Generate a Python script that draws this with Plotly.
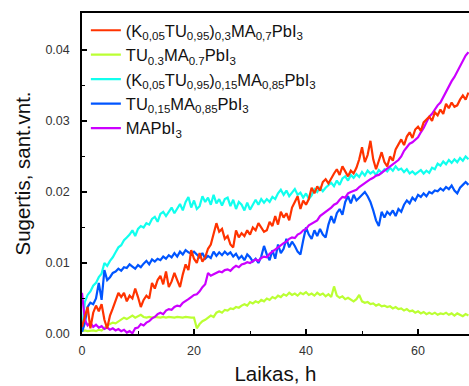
import plotly.graph_objects as go

# time axis, hours (0.5 h sampling)
hours = [i * 0.5 for i in range(139)]

# absorbance values in units of 1e-3 (sant.vnt.)
red_k03 = [
    1.0, 2.5, 3.8, 0.8, 3.0, 4.0, 3.2, 4.2, 2.0, 0.8,
    2.6, 3.6, 4.6, 5.8, 5.2, 5.8, 4.6, 5.4, 5.0, 6.4,
    5.2, 3.8, 4.8, 5.4, 5.0, 7.2, 6.4, 7.6, 8.2, 7.0,
    8.8, 6.6, 7.4, 8.6, 7.6, 6.6, 8.4, 9.8, 9.0, 11.8,
    10.6, 10.0, 11.4, 10.2, 10.8, 12.0, 12.6, 14.0, 15.6, 14.4,
    14.8, 13.4, 13.8, 12.6, 12.2, 14.6, 13.6, 14.2, 13.8, 14.6,
    14.0, 15.0, 14.6, 15.6, 15.0, 14.4, 14.6, 15.8, 15.2, 16.6,
    15.4, 17.2, 16.4, 17.0, 16.0, 17.8, 18.6, 19.4, 17.6, 18.8,
    18.2, 19.0, 20.6, 19.8, 20.8, 20.2, 21.4, 21.8, 21.2, 22.0,
    22.6, 23.2, 22.4, 23.6, 22.8, 22.2, 23.0, 22.6, 23.4, 24.6,
    26.3, 24.2, 25.2, 27.2, 24.6, 23.2, 24.4, 25.6, 24.2, 23.6,
    25.0, 24.4, 26.0, 26.8, 27.4, 26.6, 27.8, 28.4, 27.6, 28.8,
    29.2, 28.6, 29.8, 30.2, 30.6, 30.0, 31.2, 30.8, 31.6, 31.0,
    32.4, 31.8, 32.6, 32.0, 32.2, 33.0, 33.6, 33.0, 34.0,
]

green_tu03 = [
    0.4, 0.5, 0.4, 0.5, 0.5, 0.4, 0.6, 0.5, 0.9, 1.2,
    1.4, 1.6, 1.5, 1.8, 2.0, 2.3, 2.1, 2.4, 2.6, 2.3,
    2.5, 2.7, 2.4, 2.3, 2.4, 2.3, 2.4, 2.3, 2.3, 2.4,
    2.3, 2.4, 2.3, 2.3, 2.4, 2.3, 2.3, 2.4, 2.3, 2.3,
    2.3, 0.8, 1.4, 1.8, 2.0, 2.3, 2.6, 2.4, 3.0, 3.2,
    3.0, 3.4, 3.3, 3.6, 3.5, 3.8, 3.7, 4.0, 4.2, 4.0,
    4.5, 4.3, 4.6, 4.4, 4.8, 4.6, 5.0, 4.8, 5.2, 5.0,
    5.4, 5.2, 5.6, 5.4, 5.8, 5.5, 5.7, 5.4, 5.8, 5.6,
    5.9, 5.5, 5.7, 5.4, 5.8, 5.5, 5.7, 5.3, 5.6, 5.2,
    6.7, 5.4, 5.1, 5.3, 4.9, 5.1, 4.8, 4.6, 4.9, 5.5,
    4.6, 4.4, 4.5, 4.2, 4.3, 4.0, 4.2, 3.9, 4.0, 3.8,
    3.9, 3.6, 3.8, 3.5, 3.6, 3.3, 3.5, 3.2, 3.3, 3.0,
    3.2, 2.9, 3.1, 2.8, 3.0, 2.8, 3.0, 2.7, 2.9, 2.8,
    3.0, 2.7, 2.9, 2.6, 2.9, 2.7, 2.5, 2.8, 2.6,
]

cyan_k015 = [
    0.3, 4.5, 5.5, 6.0, 6.8, 7.2, 8.0, 8.5, 10.0, 9.6,
    10.3, 10.8, 11.5, 12.2, 12.5, 13.2, 13.6, 14.0, 14.6, 13.8,
    14.8, 15.2, 15.0, 15.6, 15.4, 16.2, 16.5, 15.8, 16.9, 17.2,
    16.6, 17.3, 17.8, 17.0, 17.6, 18.3, 17.4, 18.6, 19.3, 17.8,
    18.8, 17.6, 18.0, 19.4, 18.6, 19.2, 18.2, 19.6, 18.4, 19.0,
    18.1, 19.0, 19.2, 18.0, 18.9, 17.6, 18.6, 18.2, 17.4, 18.5,
    17.5, 18.3, 18.9, 18.2, 19.0, 18.5, 19.0, 18.6, 19.3, 19.0,
    19.8, 20.3, 19.6, 20.2, 19.4, 19.9, 20.4, 19.6, 19.9, 19.2,
    19.8, 19.0, 19.5, 20.4, 20.0, 20.6, 20.1, 20.6, 20.9, 21.3,
    20.8, 21.6, 21.0, 21.9, 22.2, 21.6, 22.4, 22.0, 22.5, 22.1,
    22.8, 22.3, 23.0, 22.6, 22.9, 22.4, 23.1, 22.7, 23.2, 22.9,
    23.4, 23.0, 23.6, 23.1, 23.3, 22.8, 23.2, 22.6, 22.9, 22.5,
    22.8, 23.1, 22.6, 23.0, 22.7, 23.4, 23.2, 24.0, 23.7, 24.3,
    23.9, 24.5, 24.1, 24.6, 24.2, 24.8, 24.4, 25.0, 24.6,
]

blue_tu015 = [
    0.3, 1.5, 3.8, 4.4, 4.2, 5.0, 7.2, 4.8, 9.0, 7.6,
    8.0, 8.6, 8.8, 9.2, 8.9, 9.4, 9.3, 9.8, 9.5, 9.2,
    9.7, 9.4, 9.9, 10.3, 9.8, 10.5, 10.2, 10.6, 10.4, 10.9,
    10.6, 11.1, 10.8, 11.4, 10.9, 11.6, 11.2, 11.8, 11.5, 11.3,
    11.6, 11.2, 10.8, 11.4, 10.6, 11.0, 10.7, 11.6, 11.0, 11.5,
    11.1, 11.6, 11.2, 11.5, 10.9, 11.3, 10.6, 11.0, 10.4, 11.2,
    10.8, 10.2, 10.6, 10.0, 10.9, 12.4, 11.2, 10.4, 11.8, 10.6,
    12.6, 11.4, 12.0, 13.4, 12.2, 13.0, 12.4, 11.6, 11.2, 13.2,
    15.0, 14.0, 13.4, 14.6, 13.8, 14.8, 14.0, 13.6, 15.4, 16.6,
    15.6, 17.0, 17.6, 16.8, 18.6, 19.4, 18.4, 19.6, 18.8, 19.2,
    19.6, 20.0, 19.4, 18.6, 17.4, 16.0, 15.2, 17.2, 16.4, 17.2,
    16.8, 17.4, 16.6, 17.6, 17.2, 18.2, 18.8, 18.4, 19.2, 18.8,
    19.6, 19.3, 19.8, 19.4, 20.0, 19.8, 20.2, 20.1, 20.5, 20.2,
    20.7, 20.4, 20.9, 20.2, 19.8, 20.6, 21.0, 21.4, 21.0,
]

purple_mapbi3 = [
    5.8, 2.0, 1.2, 1.6, 1.0, 1.3, 0.9, 1.1, 0.7, 0.9,
    0.6, 0.8, 0.5, 0.7, 0.4, 0.6, 0.2, 0.4, 0.1, 0.8,
    0.9, 1.4, 1.2, 1.6, 1.8, 2.2, 2.4, 2.8, 3.0, 2.8,
    3.3, 3.5, 3.4, 3.8, 4.0, 3.9, 4.4, 4.6, 4.9, 5.2,
    5.5, 5.6, 6.0, 6.6, 7.0, 8.6, 8.2, 8.4, 8.6, 8.8,
    8.7, 9.0, 9.1, 8.9, 9.3, 9.6, 9.4, 9.8, 9.9, 10.1,
    10.0, 10.3, 10.5, 10.3, 10.7, 10.9, 10.8, 11.3, 11.6, 11.9,
    12.2, 12.6, 12.8, 13.0, 13.4, 13.6, 13.5, 14.0, 14.2, 14.6,
    14.8, 15.3, 15.5, 15.8, 16.0, 16.6, 16.9, 17.2, 17.4, 17.8,
    18.2, 18.4, 18.9, 19.3, 19.2, 19.8, 20.0, 20.1, 20.3, 20.7,
    21.0, 21.2, 21.5, 21.8, 22.0, 22.3, 22.4, 22.7, 23.0, 23.3,
    23.5, 23.8, 24.1, 24.5, 25.0, 25.8, 26.3, 26.8, 27.0, 27.4,
    27.7, 28.4, 29.0, 29.8, 30.6, 31.0, 31.6, 32.2, 32.6, 33.4,
    34.0, 35.0, 35.6, 36.2, 37.0, 37.6, 38.6, 39.2, 39.7,
]

names = [
    "(K<sub>0,05</sub>TU<sub>0,95</sub>)<sub>0,3</sub>MA<sub>0,7</sub>PbI<sub>3</sub>",
    "TU<sub>0.3</sub>MA<sub>0.7</sub>PbI<sub>3</sub>",
    "(K<sub>0,05</sub>TU<sub>0,95</sub>)<sub>0,15</sub>MA<sub>0,85</sub>PbI<sub>3</sub>",
    "TU<sub>0,15</sub>MA<sub>0,85</sub>PbI<sub>3</sub>",
    "MAPbI<sub>3</sub>",
]
series = [red_k03, green_tu03, cyan_k015, blue_tu015, purple_mapbi3]
colors = ["#ff3300", "#bbff33", "#11ffee", "#0055ff", "#cc00ff"]
draw_order = [1, 2, 3, 4, 0]

x_ticks = [0, 20, 40, 60]
x_minor = [10, 30, 50]
y_ticks = [0.0, 0.01, 0.02, 0.03, 0.04]
y_ticktext = ["0.00", "0.01", "0.02", "0.03", "0.04"]
y_minor = [0.005, 0.015, 0.025, 0.035]

fig = go.Figure()
for i in draw_order:
    fig.add_trace(go.Scatter(
        x=hours, y=[v / 1000 for v in series[i]], mode="lines",
        name=names[i], legendrank=i + 1,
        line=dict(color=colors[i], width=2.2),
    ))

fig.update_layout(
    width=469, height=386,
    margin=dict(l=82, r=0, t=13, b=52),
    plot_bgcolor="white", paper_bgcolor="white",
    font=dict(family="Liberation Sans, Arial, sans-serif", color="#222"),
    showlegend=True,
    legend=dict(x=0.01, y=1.0, xanchor="left", yanchor="top",
                bgcolor="rgba(0,0,0,0)", font=dict(size=16.5, color="#111"),
                itemwidth=30),
)
fig.update_xaxes(
    range=[0, 69.1], tickvals=x_ticks, ticks="inside", ticklen=5, tickwidth=1.5,
    tickcolor="black", showline=True, linecolor="black", linewidth=1.5, mirror=True,
    showgrid=False, zeroline=False, tickfont=dict(size=12.5, color="#333"),
    ticklabelstandoff=4,
    minor=dict(tickvals=x_minor, ticks="inside", ticklen=3, tickcolor="black", tickwidth=1),
    title=dict(text="Laikas, h", font=dict(size=20.5, color="#111"), standoff=10),
)
fig.update_yaxes(
    range=[0, 0.0452], tickvals=y_ticks, ticktext=y_ticktext, ticks="inside",
    ticklen=5, tickwidth=1.5, tickcolor="black", showline=True, linecolor="black",
    linewidth=1.5, showgrid=False, zeroline=False, tickfont=dict(size=12.5, color="#333"),
    ticklabelstandoff=8,
    minor=dict(tickvals=y_minor, ticks="inside", ticklen=3, tickcolor="black", tickwidth=1),
    title=dict(text="Sugertis, sant.vnt.", font=dict(size=20.5, color="#111"), standoff=9),
)

fig.write_html("out.html")
